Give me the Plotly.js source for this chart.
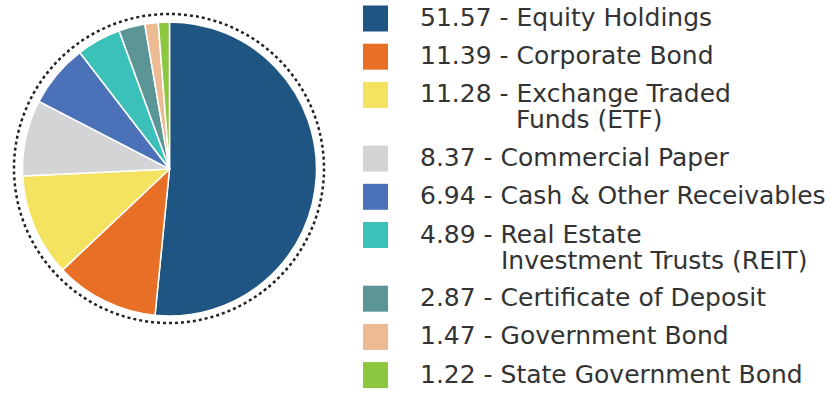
<!DOCTYPE html>
<html>
<head>
<meta charset="utf-8">
<script src="https://cdn.plot.ly/plotly-3.0.1.min.js"></script>
<style>html,body{margin:0;padding:0;background:#fff;}#chart{width:839px;height:398px;}</style>
</head>
<body>
<div id="chart"></div>
<script>
const categories = ["Equity Holdings", "Corporate Bond", "Exchange Traded Funds (ETF)", "Commercial Paper", "Cash & Other Receivables", "Real Estate Investment Trusts (REIT)", "Certificate of Deposit", "Government Bond", "State Government Bond"];
const values = [51.57, 11.39, 11.28, 8.37, 6.94, 4.89, 2.87, 1.47, 1.22];
const labelLines = [["Equity Holdings"], ["Corporate Bond"], ["Exchange Traded", "Funds (ETF)"], ["Commercial Paper"], ["Cash & Other Receivables"], ["Real Estate", "Investment Trusts (REIT)"], ["Certificate of Deposit"], ["Government Bond"], ["State Government Bond"]];
const colors = ["#1f5582", "#e87026", "#f3e360", "#d3d4d6", "#4b72b9", "#3bc1b9", "#5c9595", "#ecbb93", "#8dc63f"];

const W = 839, H = 398;
const px = x => x / W;
const py = y => 1 - y / H;

const trace = {
  type: "pie",
  values: values,
  labels: categories,
  marker: {colors: colors, line: {color: "#ffffff", width: 1.5}},
  sort: false,
  direction: "clockwise",
  rotation: 0,
  textinfo: "none",
  hoverinfo: "label+value",
  showlegend: false,
  domain: {x: [px(22), px(317)], y: [py(316), py(22)]}
};

const fontFam = "DejaVu Sans";
const fs = 25;
const ctx = document.createElement("canvas").getContext("2d");
ctx.font = fs + "px '" + fontFam + "'";

const shapes = [{
  type: "circle", xref: "paper", yref: "paper",
  x0: px(14), x1: px(324), y0: py(323), y1: py(14),
  line: {color: "#222", width: 2.5, dash: "dot"}
}];
const annotations = [];
const textColor = "#333333";
const textX = 419;
let extra = 0;
values.forEach((v, i) => {
  const yc = 17.5 + 38.2 * i + 25.5 * extra;
  shapes.push({
    type: "rect", xref: "paper", yref: "paper",
    x0: px(363), x1: px(388), y0: py(yc + 14), y1: py(yc - 12),
    fillcolor: colors[i], line: {width: 0}
  });
  const prefix = v.toFixed(2) + " - ";
  const indent = ctx.measureText(prefix).width;
  labelLines[i].forEach((ln, j) => {
    annotations.push({
      xref: "paper", yref: "paper",
      x: px(j === 0 ? textX : textX + indent), y: py(yc + 26 * j),
      xanchor: "left", yanchor: "middle", showarrow: false, borderpad: 0,
      text: j === 0 ? prefix + ln : ln,
      font: {family: fontFam, size: fs, color: textColor}
    });
  });
  extra += labelLines[i].length - 1;
});

const layout = {
  width: W, height: H,
  margin: {l: 0, r: 0, t: 0, b: 0},
  paper_bgcolor: "#ffffff",
  plot_bgcolor: "#ffffff",
  shapes: shapes,
  annotations: annotations,
  showlegend: false
};
Plotly.newPlot("chart", [trace], layout, {displayModeBar: false, staticPlot: true});
</script>
</body>
</html>
